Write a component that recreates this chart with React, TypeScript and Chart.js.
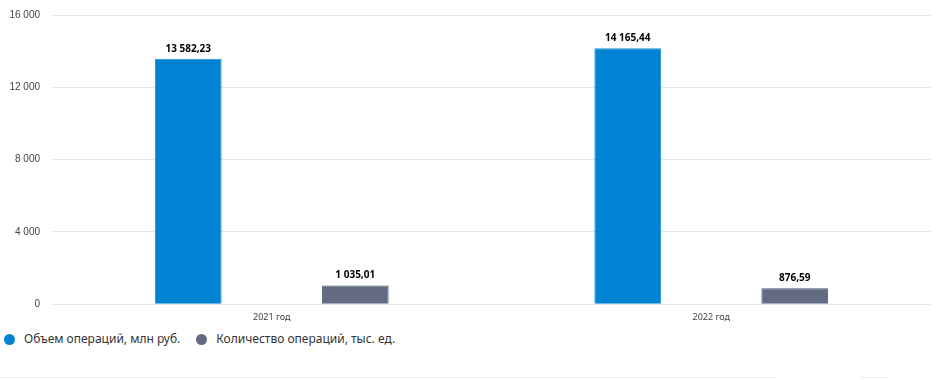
import React, { useEffect, useRef } from "react";
import { Chart, registerables } from "chart.js";

Chart.register(...registerables);

const categories = ["2021 год", "2022 год"];
const volumeLabel = "Объем операций, млн руб.";
const countLabel = "Количество операций, тыс. ед.";
const volumeValues = [13582.23, 14165.44];
const countValues = [1035.01, 876.59];
const yTicks = [0, 4000, 8000, 12000, 16000];
const colors = ["#0083D2", "#636B82"];

const fmtInt = (v: number) => String(Math.round(v)).replace(/\B(?=(\d{3})+(?!\d))/g, " ");
const fmtDec = (v: number) => {
  const [i, d] = v.toFixed(2).split(".");
  return i.replace(/\B(?=(\d{3})+(?!\d))/g, " ") + "," + d;
};

const labelPlugin = {
  id: "valueLabels",
  afterDatasetsDraw(chart: any) {
    const ctx = chart.ctx;
    ctx.save();
    ctx.font = "bold 10px 'Noto Sans', sans-serif";
    ctx.fillStyle = "#000";
    ctx.textAlign = "center";
    ctx.textBaseline = "bottom";
    chart.data.datasets.forEach((ds: any, di: number) => {
      const meta = chart.getDatasetMeta(di);
      meta.data.forEach((bar: any, i: number) => {
        ctx.fillText(fmtDec(ds.data[i]), bar.x, bar.y - 5);
      });
    });
    ctx.restore();
  },
};

export default function App() {
  const ref = useRef<HTMLCanvasElement>(null);
  useEffect(() => {
    const chart = new Chart(ref.current!, {
      type: "bar",
      data: {
        labels: categories,
        datasets: [
          {
            label: volumeLabel,
            data: volumeValues,
            backgroundColor: colors[0],
            borderColor: "#1a8fd6",
            borderWidth: 1,
            categoryPercentage: 0.76,
            barPercentage: 0.4,
          },
          {
            label: countLabel,
            data: countValues,
            backgroundColor: colors[1],
            borderColor: "#525970",
            borderWidth: 1,
            categoryPercentage: 0.76,
            barPercentage: 0.4,
          },
        ],
      },
      options: {
        animation: false,
        responsive: false,
        maintainAspectRatio: false,
        layout: { padding: { left: 0, right: 9, top: 0, bottom: 0 } },
        plugins: {
          tooltip: { enabled: false },
          legend: { display: false },
        },
        scales: {
          x: {
            grid: { display: false },
            border: { display: false },
            ticks: {
              color: "#444",
              font: { family: "'Noto Sans', sans-serif", size: 9 },
              padding: 0,
            },
          },
          y: {
            min: 0,
            max: 16000,
            afterBuildTicks: (axis: any) => {
              axis.ticks = yTicks.map((v) => ({ value: v }));
            },
            afterFit: (axis: any) => {
              axis.width = 52;
            },
            grid: { color: "#e6e6f5", lineWidth: 1, drawTicks: false },
            border: { display: false },
            ticks: {
              color: "#444",
              padding: 12,
              font: { family: "'Liberation Sans', Arial, sans-serif", size: 10 },
              callback: (v: any) => fmtInt(Number(v)),
            },
          },
        },
      },
      plugins: [labelPlugin],
    });
    return () => chart.destroy();
  }, []);
  const legendItems = [volumeLabel, countLabel];
  return (
    <div style={{ position: "absolute", left: 0, top: 0, width: 940, height: 380, background: "#fff", overflow: "hidden" }}>
      <canvas
        ref={ref}
        width={940}
        height={326}
        style={{ display: "block", position: "absolute", left: 0, top: -3 }}
      />
      <div
        style={{
          position: "absolute",
          left: 4,
          top: 330,
          display: "flex",
          fontFamily: "'Noto Sans', sans-serif",
          fontSize: 12,
          color: "#333",
          lineHeight: "18px",
        }}
      >
        {legendItems.map((t, i) => (
          <div key={t} style={{ display: "flex", alignItems: "center", marginRight: 16 }}>
            <span
              style={{
                display: "inline-block",
                width: 11,
                height: 11,
                borderRadius: "50%",
                background: colors[i],
                marginRight: 9,
              }}
            />
            <span>{t}</span>
          </div>
        ))}
      </div>
      <div style={{ position: "absolute", left: 0, top: 377, width: 775, height: 1, background: "#ececf4" }} />
      <div style={{ position: "absolute", left: 861, top: 377, width: 27, height: 1, background: "#ececf4" }} />
    </div>
  );
}
